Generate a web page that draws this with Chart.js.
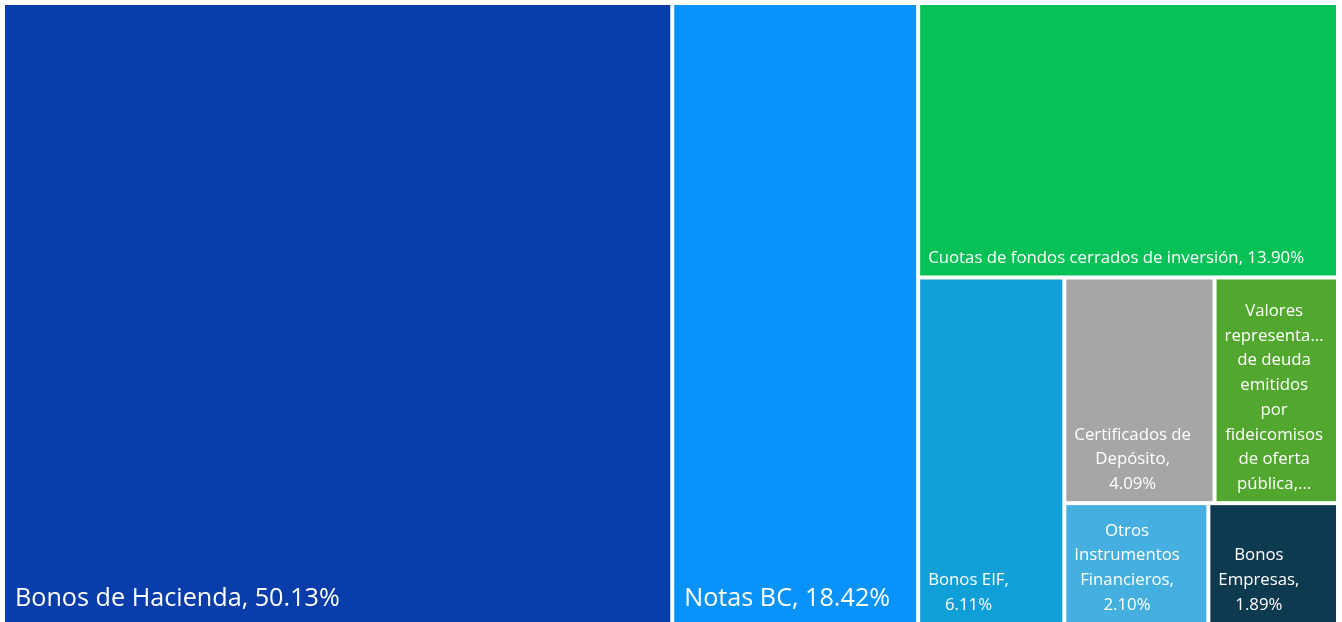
<!DOCTYPE html>
<html><head><meta charset="utf-8">
<script src="https://cdn.jsdelivr.net/npm/chart.js@4.4.1/dist/chart.umd.min.js"></script>
<style>html,body{margin:0;padding:0;background:#fff;overflow:hidden}#wrap{position:absolute;left:0;top:0;width:1342px;height:626px}</style>
</head><body><div id="wrap"><canvas id="c"></canvas></div>
<script>
const categories = ["Bonos de Hacienda","Notas BC","Cuotas de fondos cerrados de inversión","Bonos EIF","Certificados de Depósito","Valores representativos de deuda emitidos por fideicomisos de oferta pública","Otros Instrumentos Financieros","Bonos Empresas"];
const shares = [50.13,18.42,13.90,6.11,4.09,3.36,2.10,1.89];
const colors = ["#083DAA","#0892FC","#06C156","#119FD8","#A6A6A6","#52A82F","#45B0E0","#0E3A50"];
const labelLines = [
  ["Bonos de Hacienda, 50.13%"],
  ["Notas BC, 18.42%"],
  ["Cuotas de fondos cerrados de inversión, 13.90%"],
  ["Bonos EIF,","6.11%"],
  ["Certificados de","Depósito,","4.09%"],
  ["Valores","representa...","de deuda","emitidos","por","fideicomisos","de oferta","pública,..."],
  ["Otros","Instrumentos","Financieros,","2.10%"],
  ["Bonos","Empresas,","1.89%"]
];

function squarify(values, x0, y0, W, H){
  const total = values.reduce((a,b)=>a+b,0);
  const areas = values.map(v=>v/total*W*H);
  const out = [];
  let x=x0,y=y0,w=W,h=H,i=0;
  const worst=(row,side)=>{const s=row.reduce((a,b)=>a+b,0);let m=0;for(const r of row){m=Math.max(m,side*side*r/(s*s),(s*s)/(side*side*r));}return m;};
  while(i<areas.length){
    const side=Math.min(w,h);
    let row=[areas[i]]; let j=i+1;
    while(j<areas.length && worst(row.concat(areas[j]),side)<=worst(row,side)){row.push(areas[j]);j++;}
    const s=row.reduce((a,b)=>a+b,0);
    if(w>=h){const cw=s/h;let cy=y;row.forEach(a=>{const ch=a/cw;out.push({x:x,y:cy,w:cw,h:ch});cy+=ch;});x+=cw;w-=cw;}
    else{const rh=s/w;let cx=x;row.forEach(a=>{const cw2=a/rh;out.push({x:cx,y:y,w:cw2,h:rh});cx+=cw2;});y+=rh;h-=rh;}
    i=j;
  }
  return out;
}

const FONT = '"Segoe UI","Open Sans",sans-serif';
const treemapPlugin = {
  id:'treemap',
  afterDatasetsDraw(chart){
    const ctx = chart.ctx, xs = chart.scales.x, ys = chart.scales.y;
    const rects = squarify(shares, xs.min, ys.min, xs.max-xs.min, ys.max-ys.min);
    rects.forEach((r,i)=>{
      const L = xs.getPixelForValue(r.x)+2, R = xs.getPixelForValue(r.x+r.w)-2;
      const T = ys.getPixelForValue(r.y)+2, B = ys.getPixelForValue(r.y+r.h)-2;
      ctx.save();
      ctx.fillStyle = colors[i];
      ctx.fillRect(L,T,R-L,B-T);
      ctx.beginPath(); ctx.rect(L,T,R-L,B-T); ctx.clip();
      const big = shares[i] >= 15;
      const size = big ? 25.2 : 16.8;
      const lineH = 24.7;
      const bottomOff = big ? 23 : 17;
      const pad = big ? 10 : 8;
      ctx.font = size + 'px ' + FONT;
      ctx.fillStyle = '#ffffff';
      ctx.textBaseline = 'middle';
      ctx.textAlign = 'center';
      const lines = labelLines[i];
      const maxW = Math.max(...lines.map(s=>ctx.measureText(s).width));
      const cx = L + pad + maxW/2;
      const n = lines.length;
      lines.forEach((s,k)=>{
        ctx.fillText(s, cx, B - bottomOff - (n-1-k)*lineH);
      });
      ctx.restore();
    });
  }
};

new Chart(document.getElementById('c'), {
  type:'scatter',
  data:{labels:categories, datasets:[{label:'Participación', data:[], pointRadius:0}]},
  options:{
    responsive:true, maintainAspectRatio:false, animation:false,
    layout:{padding:{left:3,top:3,right:4,bottom:2}},
    plugins:{legend:{display:false}, tooltip:{enabled:false}},
    scales:{
      x:{type:'linear', min:0, max:270, display:false},
      y:{type:'linear', min:0, max:100, reverse:true, display:false}
    }
  },
  plugins:[treemapPlugin]
});
</script>
</body></html>
